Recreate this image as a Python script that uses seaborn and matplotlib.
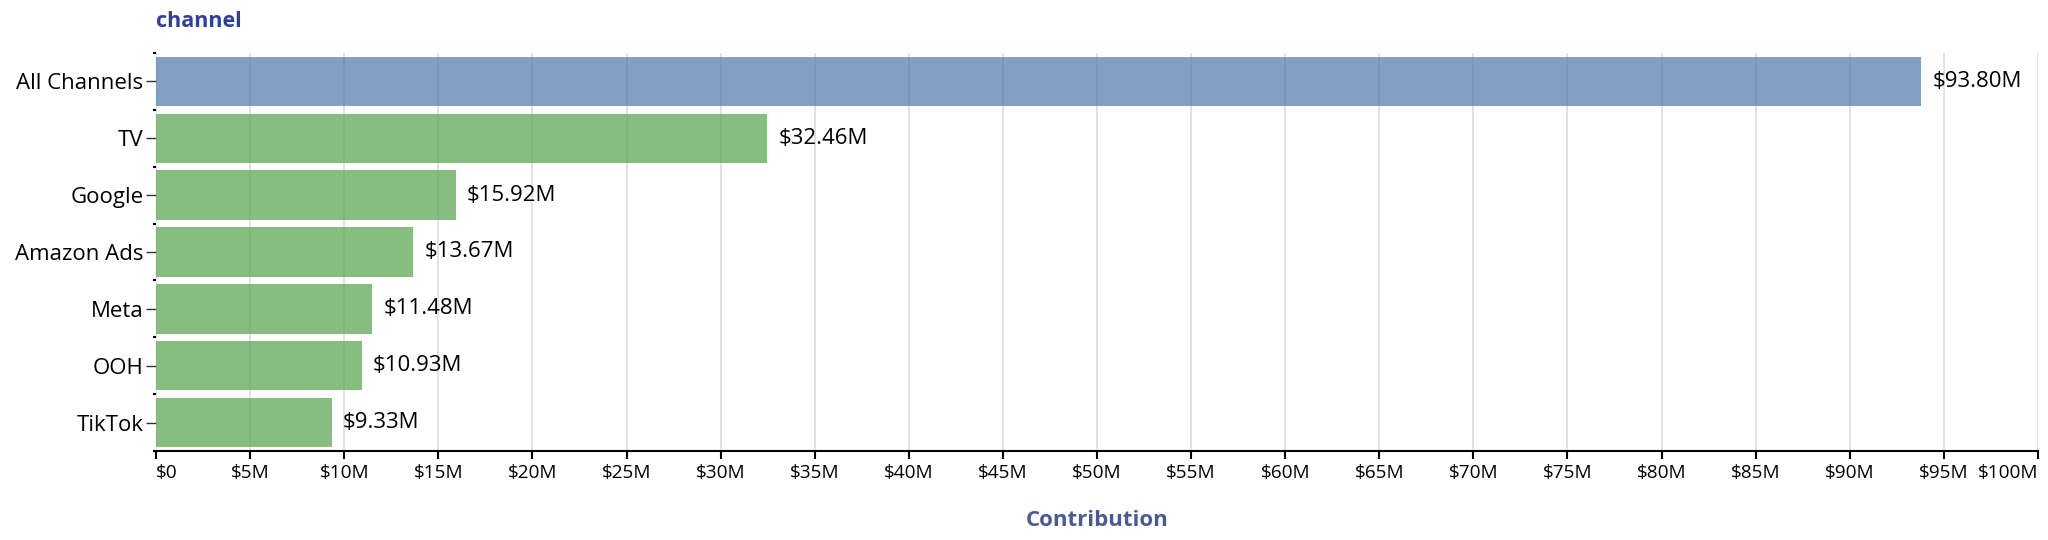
import pandas as pd
import numpy as np
import matplotlib
matplotlib.use('Agg')
import matplotlib.pyplot as plt
import seaborn as sns
from matplotlib.ticker import FixedLocator

# Data
channels = ['All Channels', 'TV', 'Google', 'Amazon Ads', 'Meta', 'OOH', 'TikTok']
contribution = [93.80, 32.46, 15.92, 13.67, 11.48, 10.93, 9.33]  # $M
groups = ['total', 'channel', 'channel', 'channel', 'channel', 'channel', 'channel']
xtick_values = list(range(0, 101, 5))
xtick_labels = ['$0'] + [f'${v}M' for v in xtick_values[1:]]

df = pd.DataFrame({'channel': channels, 'Contribution': contribution, 'group': groups})

sns.set_theme(style='white')
plt.rcParams['font.family'] = ['Open Sans', 'DejaVu Sans']

fig = plt.figure(figsize=(20.48, 5.4), dpi=100)
ax = fig.add_axes([0.0762, 0.1648, 0.9189, 0.7371])

palette = {'total': '#4c78a8', 'channel': '#54a24b'}
sns.barplot(data=df, y='channel', x='Contribution', hue='group', palette=palette,
            order=channels, dodge=False, width=0.87, alpha=0.7, saturation=1,
            legend=False, edgecolor='none', ax=ax, zorder=2)

ax.set_xlim(0, 100)
ax.set_ylim(6.5, -0.5)
ax.set_xticks(xtick_values, xtick_labels)
ax.grid(axis='x', color='#dddddd', linewidth=1.2, zorder=0)
ax.grid(axis='y', visible=False)
ax.set_axisbelow(True)

for s in ['top', 'right', 'left']:
    ax.spines[s].set_visible(False)
ax.spines['bottom'].set_color('#000000')
ax.spines['bottom'].set_linewidth(1.5)

ax.tick_params(axis='x', bottom=True, length=6, width=1.5, color='#000000',
               labelsize=13.7, labelcolor='#000000', pad=3)
ax.tick_params(axis='y', left=True, length=7, width=1, color='#333333',
               labelsize=16, labelcolor='#000000', pad=2)
ax.yaxis.set_minor_locator(FixedLocator(np.arange(-0.5, 6.6, 1.0)))
ax.tick_params(axis='y', which='minor', left=True, length=2, width=1.5, color='#000000')

# keep end labels inside the axis like the reference
xlabels = ax.get_xticklabels()
xlabels[0].set_ha('left')
xlabels[-1].set_ha('right')

# value labels
for i, v in enumerate(contribution):
    ax.text(v + 0.6, i, f'${v:.2f}M', va='center', ha='left', fontsize=16, color='#000000')

ax.set_xlabel('')
ax.set_ylabel('')
fig.text(0.0762 + 0.9189 / 2, 0.037, 'Contribution', fontsize=16, fontweight='bold',
         color='#4a5a94', ha='center', va='center')
fig.text(0.0762, 0.961, 'channel', fontsize=15.5, fontweight='bold', color='#2e3f9e',
         ha='left', va='center')

fig.savefig('out.png', dpi=100)
plt.close(fig)
